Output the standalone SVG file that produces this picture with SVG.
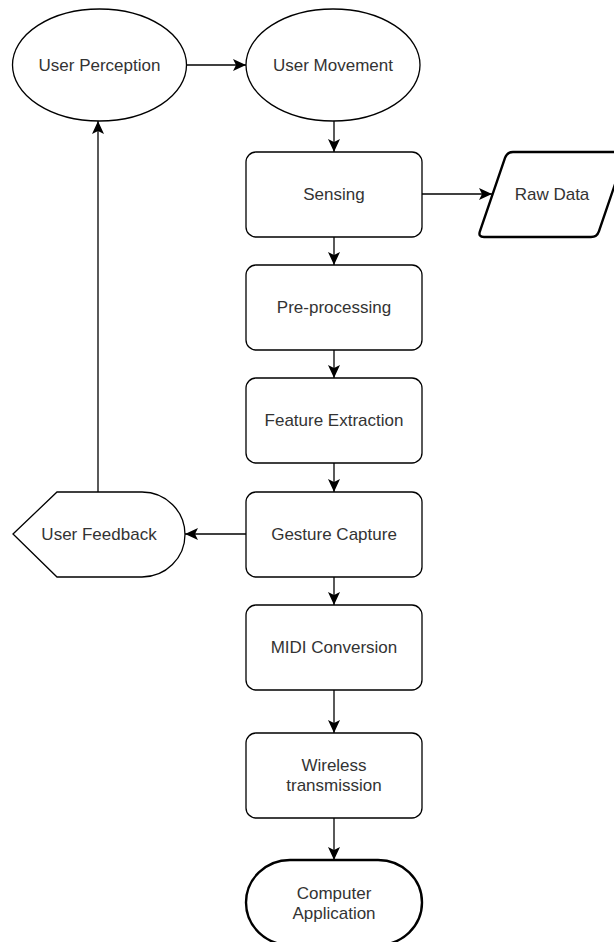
<svg xmlns="http://www.w3.org/2000/svg" width="614" height="942" viewBox="0 0 614 942">
<defs>
<marker id="arr" markerUnits="userSpaceOnUse" markerWidth="14" markerHeight="12" refX="13" refY="6" orient="auto">
<path d="M0,0 L13,6 L0,12 L3,6 Z" fill="#000"/>
</marker>
<style>
.n{fill:#fff;stroke:#000;stroke-width:1.3}
.b{fill:#fff;stroke:#000;stroke-width:2.4}
.t{font-family:"Liberation Sans",Arial,sans-serif;font-size:17px;fill:#333;text-anchor:middle;dominant-baseline:central}
.c{fill:none;stroke:#000;stroke-width:1.3;marker-end:url(#arr)}
</style>
</defs>
<rect width="614" height="942" fill="#fff"/>
<g id="connectors">
<path class="c" d="M187,65 L246,65"/>
<path class="c" d="M334,121 L334,152"/>
<path class="c" d="M422,194 L492,194"/>
<path class="c" d="M334,237 L334,265"/>
<path class="c" d="M334,350 L334,378"/>
<path class="c" d="M334,463 L334,492"/>
<path class="c" d="M246,534 L185,534"/>
<path class="c" d="M98,492 L98,121"/>
<path class="c" d="M334,577 L334,605"/>
<path class="c" d="M334,690 L334,733"/>
<path class="c" d="M334,818 L334,860"/>
</g>
<g id="user-perception"><ellipse class="n" cx="99.5" cy="65" rx="87" ry="56"/><text class="t" x="99.5" y="65">User Perception</text></g>
<g id="user-movement"><ellipse class="n" cx="333" cy="65" rx="87" ry="56"/><text class="t" x="333" y="65">User Movement</text></g>
<g id="sensing"><rect class="n" x="246" y="152" width="176" height="85" rx="10"/><text class="t" x="334" y="194.5">Sensing</text></g>
<g id="raw-data"><path class="b" d="M513,152 L626,152 L598.9,231.3 Q597,237 591,237 L484,237 Q478,237 479.9,231.3 L505.1,157.7 Q507,152 513,152 Z"/><text class="t" x="552" y="194.5">Raw Data</text></g>
<g id="pre-processing"><rect class="n" x="246" y="265" width="176" height="85" rx="10"/><text class="t" x="334" y="307.5">Pre-processing</text></g>
<g id="feature-extraction"><rect class="n" x="246" y="378" width="176" height="85" rx="10"/><text class="t" x="334" y="420.5">Feature Extraction</text></g>
<g id="gesture-capture"><rect class="n" x="246" y="492" width="176" height="85" rx="10"/><text class="t" x="334" y="534.5">Gesture Capture</text></g>
<g id="user-feedback"><path class="n" d="M13,534 L57,492 L142,492 A43,42.5 0 0 1 142,577 L57,577 Z"/><text class="t" x="99" y="534.5">User Feedback</text></g>
<g id="midi-conversion"><rect class="n" x="246" y="605" width="176" height="85" rx="10"/><text class="t" x="334" y="647.5">MIDI Conversion</text></g>
<g id="wireless-transmission"><rect class="n" x="246" y="733" width="176" height="85" rx="10"/><text class="t" x="334" y="765">Wireless</text><text class="t" x="334" y="785">transmission</text></g>
<g id="computer-application"><rect class="b" x="246" y="860" width="176" height="85" rx="44" ry="42.5"/><text class="t" x="334" y="893">Computer</text><text class="t" x="334" y="913">Application</text></g>
</svg>
